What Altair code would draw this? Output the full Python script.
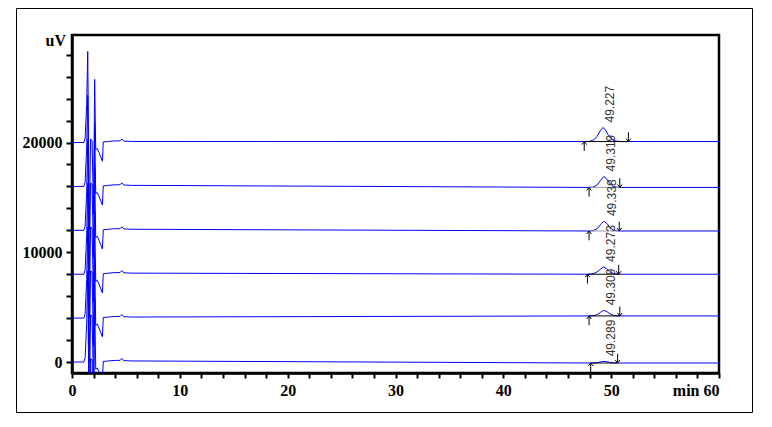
import altair as alt
import pandas as pd

# ---------------- data ----------------
# six chromatograms, stacked (top trace first)
offsets = [20000, 16000, 12000, 8000, 4000, 0]
peak_labels = ["49.227", "49.319", "49.338", "49.273", "49.309", "49.289"]

# solvent-front region, shared by all traces (relative to each trace's baseline)
early_t = [0, 1.1, 1.22, 1.36, 1.46, 1.6, 1.72, 1.86, 2.0, 2.1, 2.2, 2.35, 2.5, 2.82, 2.9, 3.4, 4.0, 4.45, 4.62, 4.8, 5.5]
early_v = [0, 0, 400, 3500, 8300, -8000, 300, 200, -6500, 5750, -650, -550, -900, -1700, 50, 100, 150, 150, 330, 130, 100]

# baseline level of each trace around the 49 min peak
levels = [90, -90, -60, 0, 200, -90]

# the peak near 49.3 min, per trace
peak_t = [
    [47.5, 48.0, 48.4, 48.7, 49.0, 49.23, 49.45, 49.7, 50.0, 50.4, 50.9],
    [47.9, 48.3, 48.7, 49.0, 49.32, 49.6, 49.9, 50.2, 50.6, 51.0],
    [47.9, 48.3, 48.7, 49.0, 49.34, 49.6, 49.9, 50.2, 50.6, 51.0],
    [47.8, 48.2, 48.6, 48.95, 49.27, 49.55, 49.85, 50.2, 50.6, 51.0],
    [47.9, 48.3, 48.7, 49.0, 49.31, 49.6, 49.9, 50.2, 50.6, 51.0],
    [48.0, 48.4, 48.7, 49.0, 49.29, 49.6, 49.9, 50.2, 50.6, 51.0],
]
peak_v = [
    [0, 20, 150, 480, 1000, 1280, 1100, 650, 250, 50, 0],
    [0, 30, 220, 620, 1000, 760, 330, 90, 10, 0],
    [0, 25, 200, 560, 900, 700, 300, 80, 10, 0],
    [0, 20, 150, 420, 670, 520, 230, 60, 10, 0],
    [0, 15, 110, 320, 510, 400, 180, 50, 5, 0],
    [0, 5, 35, 95, 150, 120, 55, 15, 0, 0],
]

# integration markers (peak start / end, minutes)
start_t = [47.5, 47.95, 47.95, 47.8, 47.95, 48.1]
end_t = [51.6, 50.8, 50.75, 50.7, 50.8, 50.6]

# axis tick positions
x_ticks = list(range(0, 61, 2))
y_ticks = list(range(0, 29000, 2000))

# ---------------- styles ----------------
TRACE_COLOR = "#0000ff"
GRAY_SEGMENT_TRACES = [1, 2]
ARROW_LEN = 850

# ---------------- tables ----------------
rows = []
for i, off in enumerate(offsets):
    for t, v in zip(early_t, early_v):
        rows.append({"trace": i, "t": t, "v": off + v})
    for t, v in zip(peak_t[i], peak_v[i]):
        rows.append({"trace": i, "t": t, "v": off + levels[i] + v})
    rows.append({"trace": i, "t": 60, "v": off + levels[i]})
traces = pd.DataFrame(rows)

marks = []
for i, off in enumerate(offsets):
    base = off + levels[i]
    k = peak_v[i].index(max(peak_v[i]))
    marks.append({
        "trace": i, "base": base, "t0": start_t[i], "t1": end_t[i],
        "up0": base - ARROW_LEN, "dn0": base + ARROW_LEN,
        "lt": peak_t[i][k], "ly": base + peak_v[i][k], "label": peak_labels[i],
        "segcol": "#9a9a9a" if i in GRAY_SEGMENT_TRACES else "#000000",
    })
marks = pd.DataFrame(marks)

xscale = alt.Scale(domain=[0, 60], nice=False, zero=False)
yscale = alt.Scale(domain=[-1000, 29800], nice=False, zero=False)

xaxis = alt.Axis(
    values=x_ticks,
    labelExpr="datum.value % 10 === 0 ? (datum.value === 60 ? 'min 60' : datum.label) : ''",
    labelAlign={"expr": "datum.value === 60 ? 'right' : 'center'"},
    labelOverlap=False, labelBound=False, title=None, grid=False,
    domainColor="black", domainWidth=2.5, tickColor="black", tickWidth=2, tickSize=5,
    labelFont="Liberation Serif", labelFontWeight="bold", labelFontSize=16,
    labelColor="black", labelPadding=4,
)
yaxis = alt.Axis(
    values=y_ticks, format="d",
    labelExpr="datum.value % 10000 === 0 ? datum.label : ''",
    labelOverlap=False, labelBound=False, title=None, grid=False,
    domainColor="black", domainWidth=2.5, tickColor="black", tickWidth=2, tickSize=6,
    labelFont="Liberation Serif", labelFontWeight="bold", labelFontSize=16,
    labelColor="black", labelPadding=4,
)


def X(f):
    return alt.X(f, type="quantitative", scale=xscale, axis=xaxis)


def Y(f):
    return alt.Y(f, type="quantitative", scale=yscale, axis=yaxis)


one = pd.DataFrame({"k": [0]})

frame = alt.Chart(one).mark_rect(fillOpacity=0, stroke="black", strokeWidth=1).encode(
    x=alt.value(-55.5), x2=alt.value(680.5), y=alt.value(-26.5), y2=alt.value(377.5)
)

lines = alt.Chart(traces).mark_line(clip=True, strokeWidth=1, color=TRACE_COLOR).encode(
    x=X("t"), y=Y("v"), detail="trace:N", order="t:Q",
)

segments = alt.Chart(marks).mark_rule(strokeWidth=1).encode(
    x=X("t0"), x2="t1:Q", y=Y("base"), color=alt.Color("segcol:N", scale=None)
)

up_shaft = alt.Chart(marks).mark_rule(strokeWidth=1, color="black").encode(
    x=X("t0"), y=Y("up0"), y2="base:Q"
)
dn_shaft = alt.Chart(marks).mark_rule(strokeWidth=1, color="black").encode(
    x=X("t1"), y=Y("dn0"), y2="base:Q"
)
up_head = alt.Chart(marks).mark_point(
    shape="M-0.8,1L0,0L0.8,1", filled=False, size=36, stroke="black", strokeWidth=1, opacity=1
).encode(x=X("t0"), y=Y("base"))
dn_head = alt.Chart(marks).mark_point(
    shape="M-0.8,-1L0,0L0.8,-1", filled=False, size=36, stroke="black", strokeWidth=1, opacity=1
).encode(x=X("t1"), y=Y("base"))

labels = alt.Chart(marks).mark_text(
    angle=270, align="left", baseline="middle", dx=5, dy=7.5,
    font="Liberation Sans", fontSize=12, color="#333333",
).encode(x=X("lt"), y=Y("ly"), text="label:N")

unit = alt.Chart(one).mark_text(
    align="right", baseline="alphabetic", font="Liberation Serif",
    fontWeight="bold", fontSize=16, color="black", text="uV",
).encode(x=alt.value(-6), y=alt.value(11))

chart = alt.layer(
    frame, lines, segments, up_shaft, dn_shaft, up_head, dn_head, labels, unit
).properties(
    width=647, height=338,
    padding={"left": 64, "top": 27, "right": 45, "bottom": 46},
    autosize=alt.AutoSizeParams(type="none"),
).configure_view(stroke="black", strokeWidth=2.5)

chart.save("out.html", embed_options={"renderer": "svg", "actions": False})
